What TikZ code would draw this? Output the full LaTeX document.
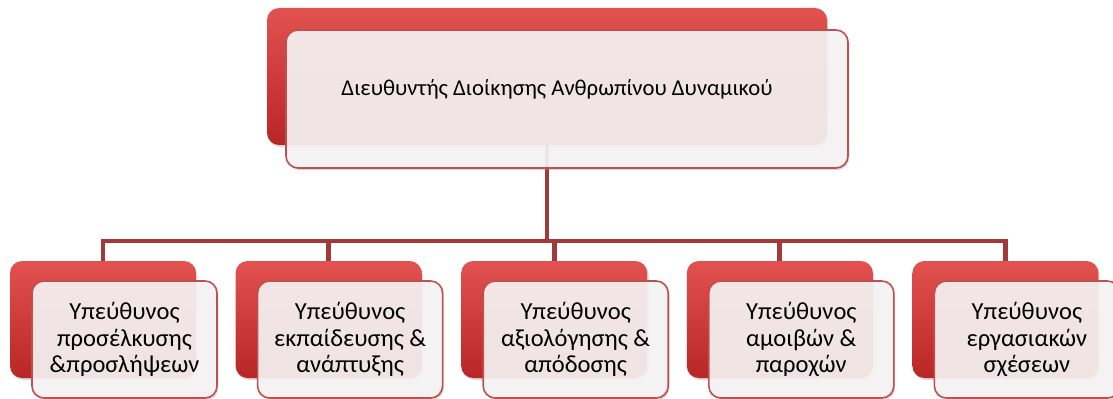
\documentclass[tikz,border=0pt]{standalone}
\usepackage{fontspec}
\setmainfont{Carlito}
\usetikzlibrary{shadows}

\definecolor{boxredtop}{RGB}{226,82,80}
\definecolor{boxredmid}{RGB}{208,56,55}
\definecolor{boxredbot}{RGB}{184,38,38}
\definecolor{paleface}{RGB}{248,245,245}
\definecolor{paleedge}{RGB}{192,80,77}
\definecolor{linkred}{RGB}{162,58,58}

\tikzset{
  redbox/.style={rounded corners=9pt, top color=boxredtop, middle color=boxredmid, bottom color=boxredbot, draw=none, inner sep=0pt,
    drop shadow={opacity=0.3, shadow xshift=1pt, shadow yshift=-1.5pt}},
  palebox/.style={rounded corners=9pt, fill=paleface, fill opacity=0.9, text opacity=1, draw=paleedge, line width=1.2pt,
    inner sep=0pt, align=center, font=\fontsize{18.4}{20}\selectfont,
    drop shadow={opacity=0.3, shadow xshift=1pt, shadow yshift=-1.5pt}},
  link/.style={draw=linkred, line width=3.6pt},
}

\begin{document}
\begin{tikzpicture}[x=0.75pt,y=0.75pt,yscale=-1,xscale=1]
\useasboundingbox (0,0) rectangle (1113,399);

%Shape: Rounded Rect (back, top)
\node [redbox, minimum width=420pt, minimum height=102.75pt] (r0) at (547,76.5) {};
%Shape: Rounded Rect (back, row)
\node [redbox, minimum width=139.5pt, minimum height=87.75pt] (r1) at (103,319.5) {};
\node [redbox, minimum width=139.5pt, minimum height=87.75pt] (r2) at (328.6,319.5) {};
\node [redbox, minimum width=139.5pt, minimum height=87.75pt] (r3) at (554.2,319.5) {};
\node [redbox, minimum width=139.5pt, minimum height=87.75pt] (r4) at (779.8,319.5) {};
\node [redbox, minimum width=139.5pt, minimum height=87.75pt] (r5) at (1005.4,319.5) {};

%Straight Lines
\coordinate (bus) at (547,241);
\draw [link] (r0.south) -- (bus);
\draw [link] (r1.north) |- (bus) -| (r5.north);
\draw [link] (r2.north) -- (r2.north |- bus);
\draw [link] (r3.north) -- (r3.north |- bus);
\draw [link] (r4.north) -- (r4.north |- bus);

%Shape: Rounded Rect (front, top)
\node [palebox, minimum width=421.5pt, minimum height=103.5pt] (p0) at (567,99) {};
% Text Node
\node [font=\fontsize{17}{20.25}\selectfont] (t0) at (557,89) {Διευθυντής Διοίκησης Ανθρωπίνου Δυναμικού};

%Shape: Rounded Rect (front, row)
\node [palebox, minimum width=138.75pt, minimum height=87.75pt] (p1) at (124.5,339.5) {Υπεύθυνος\\προσέλκυσης\\\&προσλήψεων};
\node [palebox, minimum width=138.75pt, minimum height=87.75pt] (p2) at (350.1,339.5) {Υπεύθυνος\\εκπαίδευσης \&\\ανάπτυξης};
\node [palebox, minimum width=138.75pt, minimum height=87.75pt] (p3) at (575.7,339.5) {Υπεύθυνος\\αξιολόγησης \&\\απόδοσης};
\node [palebox, minimum width=138.75pt, minimum height=87.75pt] (p4) at (801.3,339.5) {Υπεύθυνος\\αμοιβών \&\\παροχών};
\node [palebox, minimum width=138.75pt, minimum height=87.75pt] (p5) at (1026.9,339.5) {Υπεύθυνος\\εργασιακών\\σχέσεων};
\end{tikzpicture}
\end{document}
